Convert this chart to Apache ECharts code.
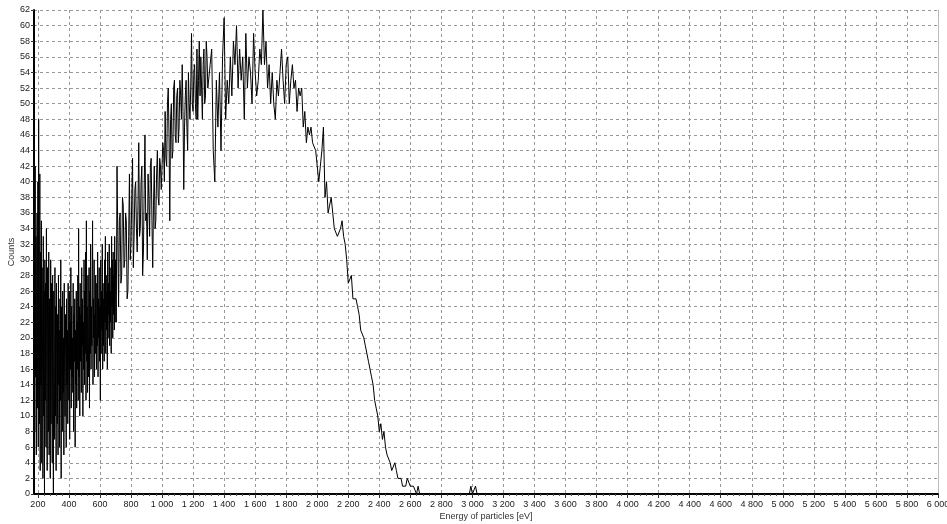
<!DOCTYPE html>
<html>
<head>
<meta charset="utf-8">
<script src="https://cdn.jsdelivr.net/npm/echarts@6/dist/echarts.min.js"></script>
<style>
html,body{margin:0;padding:0;background:#fff;}
#chart{width:947px;height:524px;}
</style>
</head>
<body>
<div id="chart"></div>
<script>
// Low-energy region: 175 .. 697.5 eV, bin 2.5 eV
var lowStart = 175, lowStep = 2.5;
var countsLow = [
  30, 38, 8, 42, 15, 33, 5, 28, 36, 11,
  40, 6, 48, 20, 9, 41, 3, 31, 14, 35,
  4, 29, 18, 2, 33, 10, 26, 0, 30, 12,
  27, 6, 34, 16, 3, 29, 22, 8, 31, 5,
  25, 13, 2, 30, 9, 27, 17, 4, 28, 11,
  0, 26, 15, 7, 29, 10, 24, 3, 27, 18,
  9, 23, 5, 28, 14, 21, 6, 25, 12, 30,
  2, 24, 16, 8, 26, 13, 20, 5, 27, 15,
  10, 23, 17, 6, 25, 14, 21, 9, 27, 18,
  12, 26, 7, 22, 16, 29, 11, 24, 15, 20,
  13, 27, 8, 23, 17, 25, 6, 21, 14, 26,
  11, 22, 16, 28, 12, 34, 15, 24, 10, 27,
  17, 23, 13, 29, 19, 25, 10, 22, 16, 30,
  14, 26, 18, 31, 12, 35, 17, 24, 13, 28,
  20, 15, 29, 11, 26, 18, 32, 16, 24, 19,
  27, 35, 14, 25, 20, 30, 15, 23, 18, 28,
  21, 16, 27, 19, 31, 15, 25, 20, 29, 17,
  24, 12, 30, 18, 26, 21, 32, 16, 27, 19,
  25, 17, 30, 22, 33, 18, 28, 21, 26, 16,
  31, 20, 27, 23, 32, 19, 29, 22, 26, 18,
  33, 24, 30, 20, 31, 23, 28, 21, 33, 22
];
// Rising region: 700 .. 1295 eV, bin 5 eV
var midStart = 700, midStep = 5;
var countsMid = [
  30, 22, 42, 33, 24, 35, 36, 27, 28, 38,
  37, 29, 30, 36, 35, 25, 26, 33, 41, 30,
  32, 38, 43, 29, 33, 39, 40, 34, 31, 37,
  45, 33, 34, 40, 42, 28, 31, 39, 46, 35,
  36, 30, 41, 38, 33, 42, 43, 35, 29, 37,
  42, 34, 35, 41, 44, 38, 37, 43, 42, 39,
  39, 45, 44, 40, 49, 43, 42, 50, 52, 46,
  35, 48, 50, 43, 44, 52, 53, 46, 45, 51,
  52, 45, 47, 53, 51, 48, 55, 49, 39, 47,
  51, 53, 47, 44, 54, 50, 48, 52, 59, 50,
  49, 54, 55, 50, 48, 57, 48, 53, 58, 51,
  56, 52, 48, 55, 57, 50, 51, 58, 56, 52
];
// Peak and falling edge: 1300 .. 2700 eV, bin 10 eV
var mainStart = 1300, mainStep = 10;
var countsMain = [
  52, 55, 57, 44, 40, 53, 47, 54, 44, 56,
  61, 48, 53, 50, 56, 51, 58, 55, 60, 52,
  57, 53, 56, 48, 59, 52, 56, 54, 50, 59,
  54, 51, 53, 57, 55, 62, 55, 58, 52, 55,
  50, 54, 50, 48, 53, 51, 54, 57, 53, 50,
  55, 56, 50, 53, 55, 52, 53, 49, 52, 51,
  52, 47, 49, 45, 47, 46, 47, 45, 45, 44,
  42, 40, 42, 44, 47, 38, 40, 36, 37, 38,
  38, 34, 34, 33, 33, 34, 35, 33, 32, 30,
  27, 27, 28, 25, 25, 25, 24, 23, 21, 21,
  20, 19, 18, 17, 16, 15, 14, 12, 11, 10,
  8, 9, 7, 8, 6, 5, 5, 4, 3, 3,
  4, 3, 2, 2, 2, 1, 1, 1, 2, 2,
  1, 1, 1, 1, 0, 1, 0, 0, 0, 0,
  0
];
// Tail: 2710 .. 3100 eV, bin 10 eV
var tailStart = 2710, tailStep = 10;
var countsTail = [
  0, 0, 0, 0, 0, 0, 0, 0, 0, 0,
  0, 0, 0, 0, 0, 0, 0, 0, 0, 0,
  0, 0, 0, 0, 0, 0, 0, 0, 1, 0,
  0, 1, 0, 0, 0, 0, 0, 0, 0, 0
];
var xTickValues = [200, 400, 600, 800, 1000, 1200, 1400, 1600, 1800, 2000,
  2200, 2400, 2600, 2800, 3000, 3200, 3400, 3600, 3800, 4000,
  4200, 4400, 4600, 4800, 5000, 5200, 5400, 5600, 5800, 6000];

function bins(start, step, arr) {
  return arr.map(function (v, i) { return [start + i * step, v]; });
}
var seriesData = bins(lowStart, lowStep, countsLow)
  .concat(bins(midStart, midStep, countsMid))
  .concat(bins(mainStart, mainStep, countsMain))
  .concat(bins(tailStart, tailStep, countsTail));

var minorTicks = [];
for (var i = 0; i < xTickValues.length; i++) {
  for (var k = 1; k < 5; k++) {
    var t = xTickValues[i] - k * 40;
    if (t >= 175) minorTicks.push(t);
  }
}

function fmt(v) {
  if (v >= 1000) {
    var th = Math.floor(v / 1000), r = v % 1000;
    return th + ' ' + String(r).padStart(3, '0');
  }
  return String(v);
}

var font = 'Liberation Sans, Arial, sans-serif';
var chart = echarts.init(document.getElementById('chart'), null, {renderer: 'canvas'});
chart.setOption({
  animation: false,
  backgroundColor: '#ffffff',
  grid: {left: 34, right: 9, top: 10, bottom: 30, containLabel: false, outerBoundsMode: 'none'},
  xAxis: [{
    type: 'value', min: 175, max: 6000,
    name: 'Energy of particles [eV]', nameLocation: 'middle', nameGap: 18, nameMoveOverlap: false,
    nameTextStyle: {fontFamily: font, fontSize: 9, color: '#333'},
    axisLine: {show: true, onZero: false, lineStyle: {color: '#000', width: 2}},
    axisTick: {show: true, customValues: xTickValues, length: 4, lineStyle: {color: '#333'}},
    axisLabel: {customValues: xTickValues, formatter: fmt, fontFamily: font, fontSize: 9, color: '#222', margin: 6},
    splitLine: {show: true, lineStyle: {color: '#999', type: [3, 3], width: 1}}
  }, {
    type: 'value', min: 175, max: 6000, position: 'bottom', gridIndex: 0,
    axisLine: {show: false},
    axisTick: {show: true, customValues: minorTicks, length: 2, lineStyle: {color: '#555'}},
    axisLabel: {show: false},
    splitLine: {show: false}
  }],
  yAxis: [{
    type: 'value', min: 0, max: 62, interval: 2,
    name: 'Counts', nameLocation: 'middle', nameGap: 18, nameMoveOverlap: false,
    nameTextStyle: {fontFamily: font, fontSize: 9, color: '#333'},
    axisLine: {show: true, lineStyle: {color: '#000', width: 2}},
    axisTick: {show: true, length: 3, lineStyle: {color: '#333'}},
    axisLabel: {fontFamily: font, fontSize: 9, color: '#222', margin: 4},
    splitLine: {show: true, lineStyle: {color: '#999', type: [3, 3], width: 1}}
  }, {
    type: 'value', min: 0, max: 62, position: 'right',
    axisLine: {show: true, lineStyle: {color: '#bbb', width: 1}},
    axisTick: {show: false}, axisLabel: {show: false}, splitLine: {show: false}
  }],
  series: [{
    type: 'line', xAxisIndex: 0, yAxisIndex: 0,
    data: seriesData, showSymbol: false, symbol: 'none',
    lineStyle: {color: '#000', width: 1}, sampling: null, z: 5
  }]
});
</script>
</body>
</html>
